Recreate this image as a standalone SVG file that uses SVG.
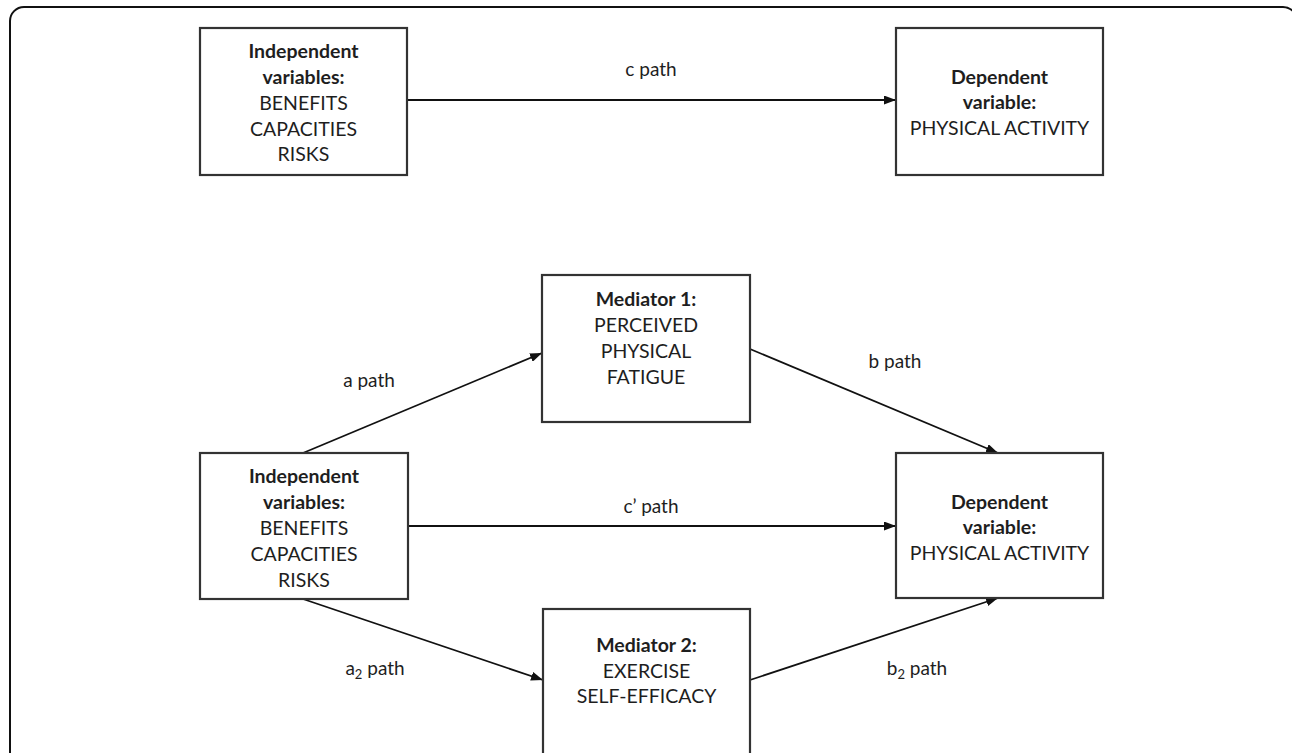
<svg xmlns="http://www.w3.org/2000/svg" width="1292" height="753" viewBox="0 0 1292 753">
<defs>
<style>
.box{fill:#fff;stroke:#333;stroke-width:2.2}
.t{font-family:Lato,"Liberation Sans",sans-serif;font-size:19.5px;fill:#1e1e1e;text-anchor:middle}
.b{font-weight:bold}
.lab{font-family:Lato,"Liberation Sans",sans-serif;font-size:19px;fill:#1e1e1e;text-anchor:middle}
.con{stroke:#111;stroke-width:1.8;fill:none;marker-end:url(#ah)}
</style>
<marker id="ah" viewBox="0 0 12 9" refX="12" refY="4.5" markerWidth="12" markerHeight="9" markerUnits="userSpaceOnUse" orient="auto">
<path d="M0,0 L12,4.5 L0,9 Z" fill="#111"/>
</marker>
</defs>
<rect width="1292" height="753" fill="#fff"/>
<rect id="frame" x="10" y="7" width="1287" height="800" rx="14" fill="none" stroke="#111" stroke-width="2"/>

<g id="connectors">
<line class="con" x1="407" y1="100" x2="896" y2="100"/>
<line class="con" x1="303" y1="453" x2="542" y2="353"/>
<line class="con" x1="750" y1="349" x2="998" y2="453"/>
<line class="con" x1="408" y1="526" x2="896" y2="526"/>
<line class="con" x1="303" y1="599" x2="543" y2="680"/>
<line class="con" x1="750" y1="680" x2="998" y2="598"/>
<text class="lab" x="651" y="76">c path</text>
<text class="lab" x="369" y="387">a path</text>
<text class="lab" x="895" y="368">b path</text>
<text class="lab" x="651" y="513">c’ path</text>
<text class="lab" x="375" y="675">a<tspan font-size="13" dy="4">2</tspan><tspan dy="-4"> path</tspan></text>
<text class="lab" x="917" y="675">b<tspan font-size="13" dy="4">2</tspan><tspan dy="-4"> path</tspan></text>
</g>

<g id="iv-top">
<rect class="box" x="200" y="28" width="207" height="147"/>
<text class="t b" x="303.5" y="58">Independent</text>
<text class="t b" x="303.5" y="84">variables:</text>
<text class="t" x="303.5" y="110">BENEFITS</text>
<text class="t" x="303.5" y="136">CAPACITIES</text>
<text class="t" x="303.5" y="161">RISKS</text>
</g>

<g id="dv-top">
<rect class="box" x="896" y="28" width="207" height="147"/>
<text class="t b" x="999.5" y="84">Dependent</text>
<text class="t b" x="999.5" y="109">variable:</text>
<text class="t" x="999.5" y="135">PHYSICAL ACTIVITY</text>
</g>

<g id="mediator1">
<rect class="box" x="542" y="275" width="208" height="147"/>
<text class="t b" x="646" y="306">Mediator 1:</text>
<text class="t" x="646" y="332">PERCEIVED</text>
<text class="t" x="646" y="358">PHYSICAL</text>
<text class="t" x="646" y="384">FATIGUE</text>
</g>

<g id="iv-bottom">
<rect class="box" x="200" y="453" width="208" height="146"/>
<text class="t b" x="304" y="483">Independent</text>
<text class="t b" x="304" y="509">variables:</text>
<text class="t" x="304" y="535">BENEFITS</text>
<text class="t" x="304" y="561">CAPACITIES</text>
<text class="t" x="304" y="587">RISKS</text>
</g>

<g id="dv-bottom">
<rect class="box" x="896" y="453" width="207" height="145"/>
<text class="t b" x="999.5" y="509">Dependent</text>
<text class="t b" x="999.5" y="534">variable:</text>
<text class="t" x="999.5" y="560">PHYSICAL ACTIVITY</text>
</g>

<g id="mediator2">
<rect class="box" x="543" y="609" width="207" height="200"/>
<text class="t b" x="646.5" y="652">Mediator 2:</text>
<text class="t" x="646.5" y="678">EXERCISE</text>
<text class="t" x="646.5" y="703">SELF-EFFICACY</text>
</g>
</svg>
